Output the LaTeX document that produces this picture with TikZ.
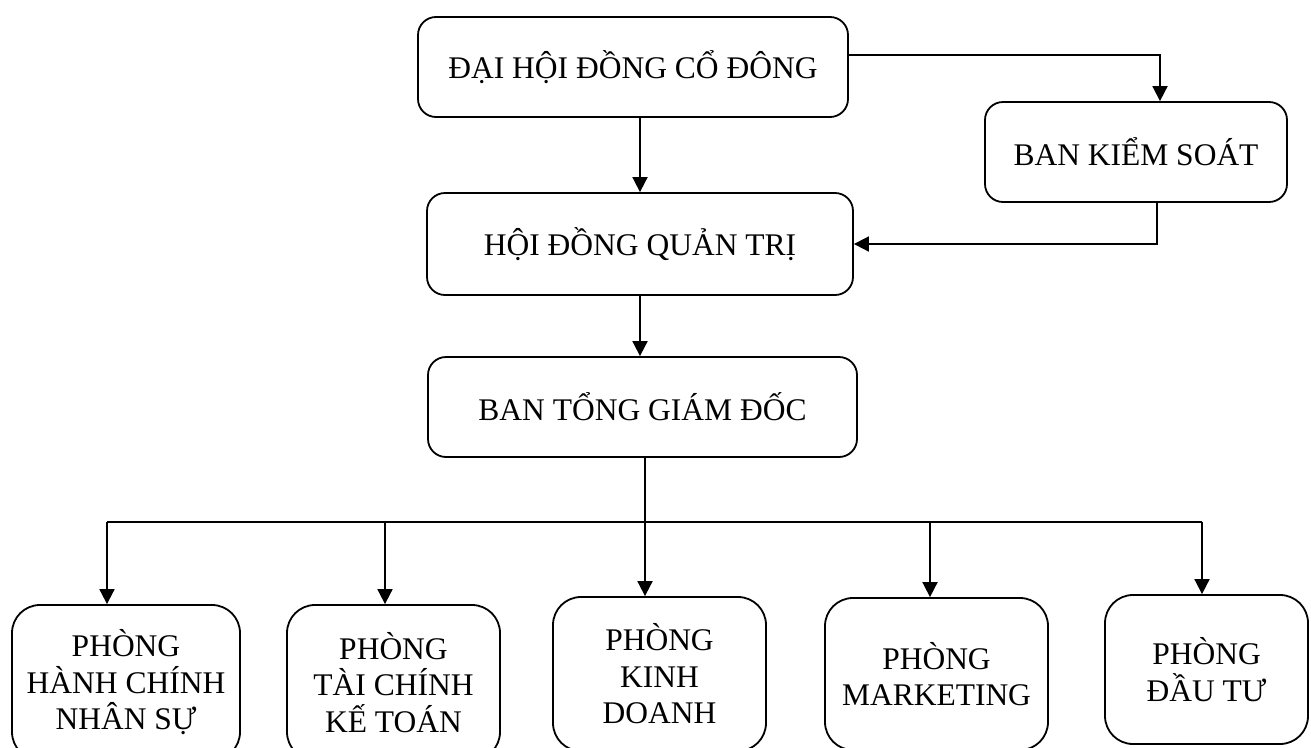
\documentclass[tikz,border=0pt]{standalone}
\usepackage{fontspec}
\setmainfont{Liberation Serif}
\usetikzlibrary{arrows.meta}
\tikzset{
  box/.style={draw=black, line width=1.8pt, rounded corners=18pt, inner sep=0pt,
    align=center, font=\fontsize{31.5}{36.5}\selectfont},
  dept/.style={box, rounded corners=28pt},
  link/.style={draw=black, line width=1.8pt},
  arr/.style={link, -{Triangle[length=15pt,width=15pt]}}
}
\begin{document}
\begin{tikzpicture}[x=1pt,y=-1pt]
\useasboundingbox[fill=white] (0,0) rectangle (1311,747);
% top-level boxes
\node[box, minimum width=430pt, minimum height=100pt] (A) at (633,67) {ĐẠI HỘI ĐỒNG CỔ ĐÔNG};
\node[box, minimum width=302pt, minimum height=100pt] (K) at (1136,152) {BAN KIỂM SOÁT};
\node[box, minimum width=426pt, minimum height=102pt] (H) at (640,244) {HỘI ĐỒNG QUẢN TRỊ};
\node[box, minimum width=429pt, minimum height=100pt] (T) at (642.5,407) {BAN TỔNG GIÁM ĐỐC};
% departments
\node[dept, minimum width=228pt, minimum height=155pt] (P1) at (126,682.5) {PHÒNG\\HÀNH CHÍNH\\NHÂN SỰ};
\node[dept, minimum width=213pt, minimum height=155pt] (P2) at (393.5,682.5) {PHÒNG\\TÀI CHÍNH\\KẾ TOÁN};
\node[dept, minimum width=213pt, minimum height=154pt] (P3) at (659.5,674) {PHÒNG\\KINH\\DOANH};
\node[dept, minimum width=223pt, minimum height=152pt] (P4) at (936.5,674) {PHÒNG\\MARKETING};
\node[dept, minimum width=203pt, minimum height=149pt] (P5) at (1206.5,669.5) {PHÒNG\\ĐẦU TƯ};
% bus drop points
\coordinate (d1) at (107,522);
\coordinate (d2) at (385,522);
\coordinate (d3) at (645,522);
\coordinate (d4) at (930,522);
\coordinate (d5) at (1202,522);
% connectors
\draw[arr] (A.south -| H.north) -- (H.north);
\draw[arr] ([yshift=12pt]A.east) -| ([xshift=24pt]K.north);
\draw[arr] ([xshift=21pt]K.south) |- (H.east);
\draw[arr] (H.south) -- (H.south |- T.north);
\draw[link] (T.south -| d3) -- (d3);
\draw[link] (d1) -- (d5);
\draw[arr] (d1) -- (d1 |- P1.north);
\draw[arr] (d2) -- (d2 |- P2.north);
\draw[arr] (d3) -- (d3 |- P3.north);
\draw[arr] (d4) -- (d4 |- P4.north);
\draw[arr] (d5) -- (d5 |- P5.north);
\end{tikzpicture}
\end{document}
